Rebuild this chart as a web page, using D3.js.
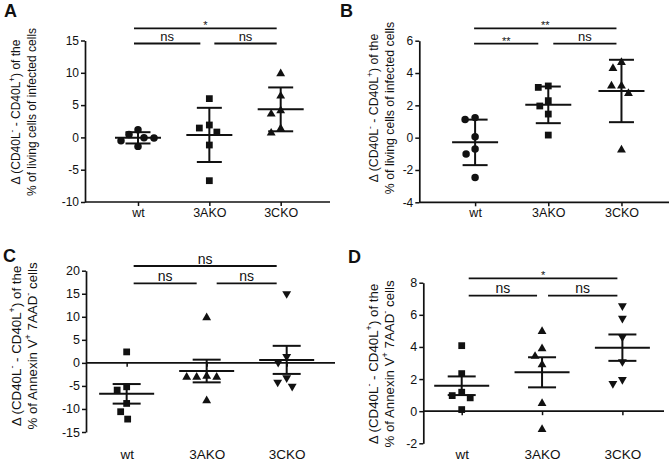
<!DOCTYPE html>
<html>
<head>
<meta charset="utf-8">
<title>CD40L scatter panels</title>
<script src="https://d3js.org/d3.v7.min.js"></script>
<style>
  body { margin: 0; background: #fff; }
  svg { font-family: "Liberation Sans", Arial, sans-serif; }
</style>
</head>
<body>
<svg id="chart" width="672" height="461"></svg>
<script>
// ---- data ----
var groups = ["wt", "3AKO", "3CKO"];

var aWt  = [1.19, 0.46, -0.05, -0.1, -0.51, -1.39];
var aAko = [6.0, 1.92, 1.45, 0.83, -1.18, -6.7];
var aCko = [9.86, 6.4, 4.13, 3.62, 1.35, 0.68];
var aTicks = [-10, -5, 0, 5, 10, 15];

var bWt  = [1.24, 1.13, 0.06, -0.7, -1.01, -2.47];
var bAko = [3.2, 3.11, 2.29, 1.96, 1.46, 0.16];
var bCko = [4.66, 4.29, 3.2, 3.2, 2.74, -0.76];
var bTicks = [-4, -2, 0, 2, 4, 6];

var cWt  = [2.38, -5.19, -5.9, -8.8, -10.6, -12.2];
var cAko = [9.8, -2.9, -3.1, -3.1, -3.1, -8.2];
var cCko = [15.0, 1.35, 0.1, -3.25, -4.2, -5.1];
var cTicks = [-15, -10, -5, 0, 5, 10, 15, 20];

var dWt  = [4.08, 2.34, 1.18, 0.97, 0.83, 0.1];
var dAko = [4.97, 3.89, 3.42, 2.9, 0.48, -1.14];
var dCko = [6.56, 5.78, 4.62, 3.08, 1.97, 1.72];
var dTicks = [-2, 0, 2, 4, 6, 8];

// significance brackets: [from, to, label, row]  (row 0 = upper line)
var aSig = [["wt", "3CKO", "*", 0], ["wt", "3AKO", "ns", 1], ["3AKO", "3CKO", "ns", 1]];
var bSig = [["wt", "3CKO", "**", 0], ["wt", "3AKO", "**", 1], ["3AKO", "3CKO", "ns", 1]];
var cSig = [["wt", "3CKO", "ns", 0], ["wt", "3AKO", "ns", 1], ["3AKO", "3CKO", "ns", 1]];
var dSig = [["wt", "3CKO", "*", 0], ["wt", "3AKO", "ns", 1], ["3AKO", "3CKO", "ns", 1]];

var titleTop = [["Δ (CD40L", 0], ["-", 1], [" - CD40L", 0], ["+", 1], [") of the", 0]];
var titleLiving = [["% of living cells of infected cells", 0]];
var titleAnnexin = [["% of Annexin V", 0], ["+", 1], [" 7AAD", 0], ["-", 1], [" cells", 0]];

// ---- layout ----
var panels = [
  { letter: "A", lx: 4, ly: 17, series: [aWt, aAko, aCko], ticks: aTicks, sig: aSig,
    x0: 85, x1: 330, yTop: 40.5, yBot: 202, pad: 0.717, align: 0.518,
    zeroAxis: false, err: "sd", shapes: ["circle", "square", "tri"],
    t1: 16, t2: 32, tcy: 112, tfs: 12, title2: titleLiving, fs: 12, xfs: 12.5,
    sigY: [28.3, 43.5], sigIn: [-4, -9, 5, -4], meanW: 46, capW: 25, sfs: 13 },
  { letter: "B", lx: 340, ly: 17, series: [bWt, bAko, bCko], ticks: bTicks, sig: bSig,
    x0: 419.3, x1: 669, yTop: 40.7, yBot: 202.3, pad: 0.706, align: 0.54,
    zeroAxis: false, err: "sd", shapes: ["circle", "square", "tri"],
    t1: 374, t2: 390, tcy: 108, tfs: 12.3, title2: titleLiving, fs: 12, xfs: 12.5,
    sigY: [28.3, 43.7], sigIn: [-1, -10, 5, -5], meanW: 46, capW: 25, sfs: 13 },
  { letter: "C", lx: 3, ly: 262, series: [cWt, cAko, cCko], ticks: cTicks, sig: cSig,
    x0: 86, x1: 335, yTop: 270.7, yBot: 432, pad: 0.556, align: 0.457,
    zeroAxis: true, labelY: 449.5, err: "sem", shapes: ["square", "tri", "tridown"],
    t1: 16, t2: 32, tcy: 346, tfs: 13.3, title2: titleAnnexin, fs: 12.5, xfs: 13.5,
    sigY: [266, 283.3], sigIn: [7, -10, 10, -10], meanW: 55, capW: 28, sfs: 14 },
  { letter: "D", lx: 348, ly: 263, series: [dWt, dAko, dCko], ticks: dTicks, sig: dSig,
    x0: 423.3, x1: 664, yTop: 282.7, yBot: 443.3, pad: 0.498, align: 0.48,
    zeroAxis: true, labelY: 449.5, err: "sem", shapes: ["square", "tri", "tridown"],
    t1: 373, t2: 389, tcy: 364, tfs: 13.3, title2: titleAnnexin, fs: 12.5, xfs: 13.5,
    sigY: [278.3, 295.7], sigIn: [7, -5, 6, -5], meanW: 55, capW: 28, sfs: 14 }
];

var ink = "#111";
var svg = d3.select("#chart");

function symbolPath(kind) {
  if (kind === "circle") return d3.symbol(d3.symbolCircle, 44)();
  if (kind === "square") return d3.symbol(d3.symbolSquare, 46)();
  return d3.symbol(d3.symbolTriangle, 34)();
}

// simple beeswarm so that markers sharing a level sit side by side
function swarm(vals, y, dia) {
  var order = vals.map(function (v, i) { return i; }).sort(function (a, b) { return vals[b] - vals[a]; });
  var placed = [], out = new Array(vals.length);
  order.forEach(function (i) {
    var py = y(vals[i]);
    for (var k = 0; k < 200; k++) {
      var dx = (k % 2 === 0 ? 1 : -1) * Math.ceil(k / 2) * 0.5;
      var ok = placed.every(function (p) {
        return Math.hypot(p[0] - dx, p[1] - py) >= dia;
      });
      if (ok) { placed.push([dx, py]); out[i] = dx; break; }
    }
  });
  return out;
}

function titleLine(g, cx, cy, parts, fs) {
  var t = g.append("text")
    .attr("transform", "translate(" + cx + "," + cy + ") rotate(-90)")
    .attr("text-anchor", "middle")
    .attr("dy", "0.35em")
    .attr("font-size", fs)
    .attr("fill", ink);
  var shift = 0;
  parts.forEach(function (p) {
    var s = t.append("tspan").text(p[0]);
    if (p[1]) {
      s.attr("font-size", fs * 0.68).attr("dy", -fs * 0.42);
      shift = fs * 0.42;
    } else if (shift) {
      s.attr("dy", shift);
      shift = 0;
    }
  });
}

panels.forEach(function (P) {
  var g = svg.append("g");
  var ext = d3.extent(P.ticks);
  var y = d3.scaleLinear().domain(ext).range([P.yBot, P.yTop]);
  var x = d3.scalePoint().domain(groups).range([P.x0, P.x1]).padding(P.pad).align(P.align);

  // panel letter
  g.append("text").attr("x", P.lx).attr("y", P.ly)
    .attr("font-size", 18).attr("font-weight", "bold").attr("fill", ink).text(P.letter);

  // y axis
  var ya = g.append("g").attr("transform", "translate(" + P.x0 + ",0)")
    .call(d3.axisLeft(y).tickValues(P.ticks).tickSize(4).tickPadding(2).tickSizeOuter(0));
  ya.select(".domain").attr("stroke", ink).attr("stroke-width", 1.7);
  ya.selectAll(".tick line").attr("stroke", ink).attr("stroke-width", 1.5);
  ya.selectAll(".tick text").attr("font-size", P.fs).attr("fill", ink)
    .attr("font-family", null).text(function (d) { return d; });

  // x axis
  var xy = P.zeroAxis ? y(0) : P.yBot;
  var xa = g.append("g").attr("transform", "translate(0," + xy + ")")
    .call(d3.axisBottom(x).tickSize(4).tickPadding(2).tickSizeOuter(0));
  xa.select(".domain").attr("stroke", ink).attr("stroke-width", 1.7)
    .attr("d", "M" + P.x0 + ",0H" + P.x1);
  xa.selectAll(".tick line").attr("stroke", ink).attr("stroke-width", 1.5);
  xa.selectAll(".tick text").attr("font-size", P.xfs).attr("fill", ink).attr("font-family", null);
  if (P.zeroAxis) xa.selectAll(".tick text").attr("y", P.labelY - xy);

  // y title
  titleLine(g, P.t1, P.tcy, titleTop, P.tfs);
  titleLine(g, P.t2, P.tcy, P.title2, P.tfs);

  // points and summary bars
  P.series.forEach(function (vals, gi) {
    var cx = x(groups[gi]);
    var m = d3.mean(vals);
    var e = P.err === "sd" ? d3.deviation(vals) : d3.deviation(vals) / Math.sqrt(vals.length);
    var bars = g.append("g").attr("stroke", ink).attr("stroke-width", 2);
    bars.append("line").attr("x1", cx).attr("x2", cx).attr("y1", y(m + e)).attr("y2", y(m - e));
    bars.append("line").attr("x1", cx - P.meanW / 2).attr("x2", cx + P.meanW / 2).attr("y1", y(m)).attr("y2", y(m));
    [m + e, m - e].forEach(function (v) {
      bars.append("line").attr("x1", cx - P.capW / 2).attr("x2", cx + P.capW / 2).attr("y1", y(v)).attr("y2", y(v));
    });

    var offs = swarm(vals, y, 10);
    var kind = P.shapes[gi];
    g.append("g").selectAll("path").data(vals).join("path")
      .attr("d", symbolPath(kind))
      .attr("fill", ink)
      .attr("transform", function (d, i) {
        var t = "translate(" + (cx + offs[i]) + "," + y(d) + ")";
        return kind === "tridown" ? t + " rotate(180)" : t;
      });
  });

  // significance brackets
  P.sig.forEach(function (s) {
    var first = s[0] === groups[0], last = s[1] === groups[2];
    var xa1 = x(s[0]) + (first ? P.sigIn[0] : P.sigIn[2]);
    var xa2 = x(s[1]) + (last ? P.sigIn[3] : P.sigIn[1]);
    var ly = P.sigY[s[3]];
    g.append("line").attr("x1", xa1).attr("x2", xa2).attr("y1", ly).attr("y2", ly)
      .attr("stroke", ink).attr("stroke-width", 1.8);
    var star = s[2].indexOf("*") === 0;
    g.append("text").attr("x", (xa1 + xa2) / 2)
      .attr("y", star ? ly + 1 : ly - 2.5)
      .attr("text-anchor", "middle")
      .attr("font-size", star ? 11 : P.sfs)
      .attr("fill", ink).text(s[2]);
  });
});
</script>
</body>
</html>
